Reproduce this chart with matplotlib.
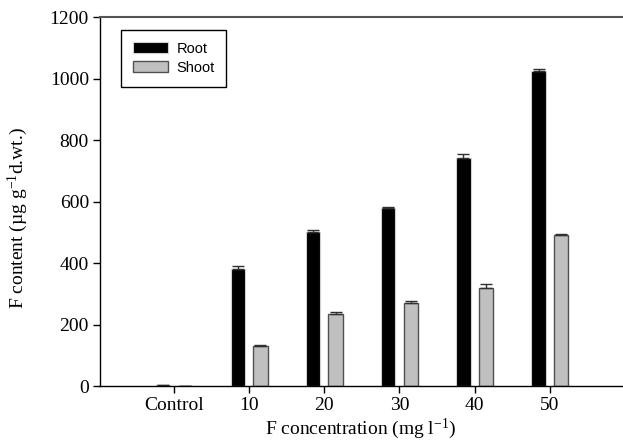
import numpy as np
import matplotlib.pyplot as plt

# values
groups = ["Control", "10", "20", "30", "40", "50"]
root = [2, 380, 500, 580, 742, 1025]
root_err = [0, 10, 7, 3, 12, 5]
shoot = [1, 130, 234, 270, 320, 490]
shoot_err = [0, 2, 8, 5, 12, 4]

plt.rcParams['font.family'] = ['Liberation Serif', 'DejaVu Serif']
plt.rcParams['mathtext.fontset'] = 'custom'
plt.rcParams['mathtext.rm'] = 'Liberation Serif'
plt.rcParams['mathtext.it'] = 'Liberation Serif:italic'

fig = plt.figure(figsize=(6.23, 4.46), dpi=100)
ax = fig.add_axes([0.1605, 0.1345, 0.8375, 0.827])

x = np.arange(len(groups))
w = 0.19
ekw = dict(ecolor="#303030", elinewidth=1, capsize=4, capthick=1)
# only the upper half of each error bar is drawn
ax.bar(x - 0.15, root, w, color="black", edgecolor="#d0d0d0", linewidth=0.8,
       yerr=[np.zeros(len(root)), root_err], error_kw=ekw, label="Root", zorder=2)
ax.bar(x + 0.15, shoot, w, color="#c0c0c0", edgecolor="#505050", linewidth=1,
       yerr=[np.zeros(len(shoot)), shoot_err], error_kw=ekw, label="Shoot", zorder=2)

ax.set_xlim(-0.984, 5.957)
ax.set_ylim(0, 1200)
ax.set_yticks(range(0, 1201, 200))
ax.set_xticks(x)
ax.set_xticklabels(groups)

ax.spines["right"].set_visible(False)
ax.spines["top"].set_color("#555555")
ax.spines["top"].set_linewidth(1.5)
ax.spines["left"].set_linewidth(1)
ax.spines["bottom"].set_linewidth(1)
ax.tick_params(direction="out", length=5, width=1, labelsize=14, pad=3)

ax.set_xlabel("F concentration (mg l$^{\\mathrm{-1}}$)", fontsize=14, labelpad=2)
ax.set_ylabel("F content (\u00b5g g$^{\\mathrm{-1}}$d.wt.)", fontsize=14)
ax.yaxis.set_label_coords(-0.135, 0.455)

leg = ax.legend(loc="upper left", bbox_to_anchor=(0.04, 0.965), borderaxespad=0,
                fancybox=False, edgecolor="black", framealpha=1, borderpad=0.8,
                labelspacing=0.35, handlelength=2.4, handleheight=0.8, handletextpad=0.6,
                prop={"family": "Liberation Sans", "size": 10.5})
leg.get_frame().set_linewidth(1)

fig.savefig("out.png", dpi=100)
